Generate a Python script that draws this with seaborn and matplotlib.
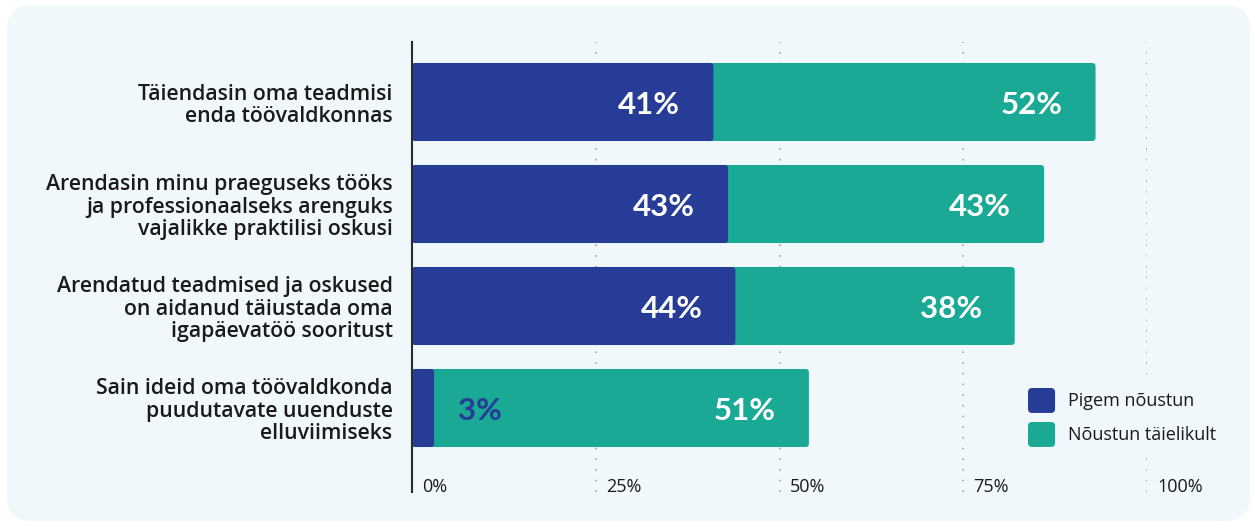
import matplotlib
matplotlib.use("Agg")
import matplotlib.pyplot as plt
import matplotlib.transforms as mtransforms
from matplotlib.patches import FancyBboxPatch, Patch
from matplotlib.legend_handler import HandlerPatch
import seaborn as sns
import pandas as pd

# ---- data ----
categories = [
    "Täiendasin oma teadmisi\nenda töövaldkonnas",
    "Arendasin minu praeguseks tööks\nja professionaalseks arenguks\nvajalikke praktilisi oskusi",
    "Arendatud teadmised ja oskused\non aidanud täiustada oma\nigapäevatöö sooritust",
    "Sain ideid oma töövaldkonda\npuudutavate uuenduste\nelluviimiseks",
]
pigem = [41, 43, 44, 3]
taielikult = [52, 43, 38, 51]
series_names = ["Pigem nõustun", "Nõustun täielikult"]
x_ticks = [0, 25, 50, 75, 100]
x_tick_labels = ["0%", "25%", "50%", "75%", "100%"]

# ---- style ----
DARK = "#263C96"
TEAL = "#19A995"
PANEL = "#F0F8FC"
TEXT = "#1A1A1A"
FONT = "Open Sans"
VALUE_FONT = "Lato"

sns.set_style("white")
plt.rcParams["font.family"] = [FONT, "DejaVu Sans"]

df = pd.DataFrame({"category": categories, "pigem": pigem, "taielikult": taielikult})
df["total"] = df["pigem"] + df["taielikult"]

W, H, DPI = 1255, 528, 100
fig = plt.figure(figsize=(W / DPI, H / DPI), dpi=DPI, facecolor="white")

# rounded background panel
panel = FancyBboxPatch((7 / W, 7 / H), (1250 - 7) / W, (523 - 7) / H,
                       boxstyle="round,pad=0,rounding_size=0.02",
                       mutation_aspect=W / H,
                       transform=fig.transFigure, facecolor=PANEL,
                       edgecolor="none", zorder=-10)
fig.patches.append(panel)

ax_left, ax_right = 412 / W, 1147 / W
ax_top, ax_bottom = 1 - 42 / H, 1 - 492 / H
ax = fig.add_axes([ax_left, ax_bottom, ax_right - ax_left, ax_top - ax_bottom])
ax.set_zorder(1)
ax.set_facecolor("none")
ax.patch.set_alpha(0)

bar_w = 0.765
sns.barplot(data=df, y="category", x="total", color=TEAL, saturation=1,
            width=bar_w, orient="h", ax=ax, zorder=3)
sns.barplot(data=df, y="category", x="pigem", color=DARK, saturation=1,
            width=bar_w, orient="h", ax=ax, zorder=4)

# replace square bar corners with slightly rounded ones
px_per_x = (1147 - 412) / 100.0
px_per_y = 102.0
for rect in list(ax.patches):
    x, y = rect.get_x(), rect.get_y()
    w, h = rect.get_width(), rect.get_height()
    fb = FancyBboxPatch((x, y), w, h,
                        boxstyle="round,pad=0,rounding_size=%f" % (3.5 / px_per_x),
                        mutation_aspect=px_per_x / px_per_y,
                        facecolor=rect.get_facecolor(), edgecolor="none",
                        zorder=rect.get_zorder())
    rect.remove()
    ax.add_patch(fb)

ax.set_xlim(0, 100)
ax.set_ylim(3 + 84 / px_per_y, -60 / px_per_y)

# dotted vertical gridlines
for t in x_ticks[1:]:
    ax.axvline(t, color="#9A9A9A", linestyle=(0, (1, 6)), linewidth=1.1, zorder=1)

# spines / ticks
for s in ["top", "right", "bottom"]:
    ax.spines[s].set_visible(False)
ax.spines["left"].set_color("#2B2B2B")
ax.spines["left"].set_linewidth(1.5)
ax.spines["left"].set_zorder(6)
ax.set_xticks([])
ax.set_xlabel("")
ax.set_ylabel("")
ax.tick_params(axis="y", length=0, pad=14)
for lab in ax.get_yticklabels():
    lab.set_fontsize(15.3)
    lab.set_fontweight("semibold")
    lab.set_color(TEXT)
    lab.set_linespacing(1.07)
    lab.set_horizontalalignment("right")

# x tick labels, drawn inside the plot area next to each gridline
tick_trans = mtransforms.blended_transform_factory(ax.transData, ax.transAxes)
for t, lbl in zip(x_ticks, x_tick_labels):
    ax.text(t + 10 / px_per_x, 5 / 450, lbl, transform=tick_trans,
            ha="left", va="center", fontsize=13, color=TEXT)

# value labels
pad = 33 / px_per_x
vstyle = dict(fontsize=22.5, fontweight="bold", family=VALUE_FONT,
              va="center_baseline", zorder=7)
for i, (a, b) in enumerate(zip(pigem, taielikult)):
    if a >= 10:
        ax.text(a - pad, i, f"{a}%", ha="right", color="white", **vstyle)
    else:
        ax.text(a + 24 / px_per_x, i, f"{a}%", ha="left", color=DARK, **vstyle)
    ax.text(a + b - pad, i, f"{b}%", ha="right", color="white", **vstyle)


# legend with rounded swatches
class RoundedHandler(HandlerPatch):
    def create_artists(self, legend, orig_handle, xdescent, ydescent,
                       width, height, fontsize, trans):
        p = FancyBboxPatch((-xdescent, -ydescent), width, height,
                           boxstyle="round,pad=0,rounding_size=3",
                           facecolor=orig_handle.get_facecolor(),
                           edgecolor="none", transform=trans)
        return [p]


leg_fs = 13
leg_fs_px = leg_fs * DPI / 72
leg_pad = 0.6
handles = [Patch(facecolor=DARK), Patch(facecolor=TEAL)]
leg = ax.legend(handles, series_names, loc="upper left",
                bbox_to_anchor=((1028 - leg_pad * leg_fs_px) / W,
                                1 - (388 - leg_pad * leg_fs_px) / H),
                bbox_transform=fig.transFigure, borderaxespad=0,
                borderpad=leg_pad, frameon=True, fancybox=False,
                facecolor=PANEL, edgecolor="none", framealpha=1,
                prop={"size": leg_fs, "family": FONT},
                handlelength=1.5, handleheight=1.75, handletextpad=0.72,
                labelspacing=0.5,
                handler_map={Patch: RoundedHandler()})
leg.set_zorder(8)
for txt in leg.get_texts():
    txt.set_color(TEXT)

fig.savefig("out.png", dpi=DPI, facecolor="white")
